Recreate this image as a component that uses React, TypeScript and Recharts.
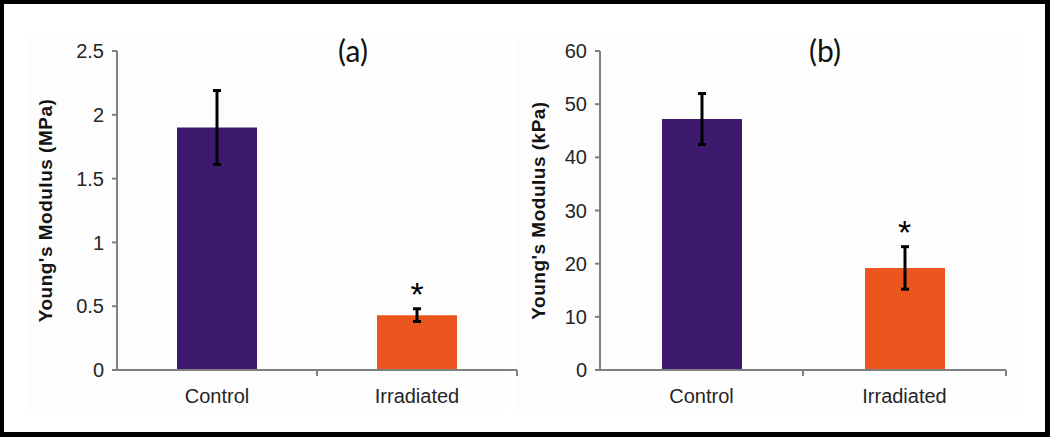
import React from "react";
import { BarChart, Bar, XAxis, YAxis, ErrorBar, Cell, ReferenceDot } from "recharts";

const categories = ["Control", "Irradiated"];
const mpaValues = [1.9, 0.43];
const mpaErrors = [0.29, 0.05];
const kpaValues = [47.2, 19.2];
const kpaErrors = [4.8, 4.0];
const mpaTicks = [0, 0.5, 1, 1.5, 2, 2.5];
const kpaTicks = [0, 10, 20, 30, 40, 50, 60];
// position of the significance asterisk above the irradiated bar
const mpaStar = 0.6;
const kpaStar = 25.9;

const COLORS = ["#3d1a6e", "#ea561d"];
const AXIS = "#7f7f7f";
const FONT = "'Liberation Sans', Arial, sans-serif";
const TICK_GAP = 19;

// category label plus the Excel-style tick mark at the right edge of each band
const CategoryTick = (p: any) => {
    const { x, y, payload, band } = p;
    const edge = x + band / 2;
    const axisY = y - TICK_GAP;
    return (
        <g>
            <line x1={edge} x2={edge} y1={axisY} y2={axisY + 6} stroke={AXIS} strokeWidth={2} />
            <text x={x} y={y} dy="0.71em" textAnchor="middle" fill="#262626" fontSize={20} fontFamily={FONT}>
                {payload.value}
            </text>
        </g>
    );
};

interface PanelProps {
    values: number[];
    errors: number[];
    ticks: number[];
    star: number;
    yLabel: string;
    left: number;
    margin: { top: number; right: number; bottom: number; left: number };
    yWidth: number;
}

const WIDTH = 525;
const HEIGHT = 437;

const Panel = (props: PanelProps) => {
    const data = categories.map((name, i) => ({
        name,
        value: props.values[i],
        err: props.errors[i],
    }));
    const top = props.ticks[props.ticks.length - 1];
    const band = (WIDTH - props.margin.left - props.margin.right - props.yWidth) / categories.length;

    return (
        <div style={{ position: "absolute", left: props.left, top: 0 }}>
            <BarChart width={WIDTH} height={HEIGHT} data={data} margin={props.margin}>
                <XAxis
                    dataKey="name"
                    height={30}
                    stroke={AXIS}
                    strokeWidth={2}
                    tickLine={false}
                    tickSize={0}
                    tickMargin={TICK_GAP}
                    tick={(p: any) => <CategoryTick {...p} band={band} />}
                />
                <YAxis
                    domain={[0, top]}
                    ticks={props.ticks}
                    width={props.yWidth}
                    stroke={AXIS}
                    strokeWidth={2}
                    tickSize={5}
                    tickMargin={8}
                    tick={{ fill: "#262626", fontSize: 20, fontFamily: FONT }}
                    label={{
                        value: props.yLabel,
                        angle: -90,
                        position: "insideLeft",
                        offset: 8,
                        style: {
                            textAnchor: "middle",
                            fontSize: 19,
                            fontWeight: "bold",
                            fontFamily: FONT,
                            fill: "#141414",
                            letterSpacing: 0.5,
                        },
                    }}
                />
                <Bar dataKey="value" barSize={80} isAnimationActive={false}>
                    {data.map((item, index) => (
                        <Cell key={`cell-${index}`} fill={COLORS[index % COLORS.length]} />
                    ))}
                    <ErrorBar dataKey="err" width={4} strokeWidth={3} stroke="#000" />
                </Bar>
                <ReferenceDot
                    x="Irradiated"
                    y={props.star}
                    r={0}
                    fill="none"
                    stroke="none"
                    label={{ value: "*", position: "center", fontSize: 34, fill: "#000", fontFamily: FONT }}
                />
            </BarChart>
        </div>
    );
};

const Title = ({ text, center }: { text: string; center: number }) => (
    <div
        style={{
            position: "absolute",
            left: center - 50,
            top: 35,
            width: 100,
            textAlign: "center",
            fontFamily: "Lato, 'Open Sans', sans-serif",
            fontSize: 30,
            lineHeight: 1,
            color: "#111",
        }}
    >
        {text}
    </div>
);

export default function App() {
    return (
        <div
            style={{
                position: "absolute",
                left: 0,
                top: 0,
                width: 1050,
                height: 437,
                background: "#fff",
                overflow: "hidden",
            }}
        >
            <div style={{ position: "absolute", left: 27, top: 33, width: 478, height: 380, background: "#fdfdfd" }} />
            <div style={{ position: "absolute", left: 515, top: 33, width: 509, height: 380, background: "#fdfdfd" }} />
            <Panel
                values={mpaValues}
                errors={mpaErrors}
                ticks={mpaTicks}
                star={mpaStar}
                yLabel="Young's Modulus (MPa)"
                left={0}
                margin={{ top: 51, right: 8, bottom: 37, left: 37 }}
                yWidth={80}
            />
            <Panel
                values={kpaValues}
                errors={kpaErrors}
                ticks={kpaTicks}
                star={kpaStar}
                yLabel="Young's Modulus (kPa)"
                left={525}
                margin={{ top: 51, right: 44, bottom: 37, left: 5 }}
                yWidth={70}
            />
            <Title text="(a)" center={353} />
            <Title text="(b)" center={825} />
            <div
                style={{
                    position: "absolute",
                    inset: 0,
                    boxSizing: "border-box",
                    borderStyle: "solid",
                    borderColor: "#000",
                    borderWidth: "4px 5px 5px 4px",
                    pointerEvents: "none",
                }}
            />
        </div>
    );
}
